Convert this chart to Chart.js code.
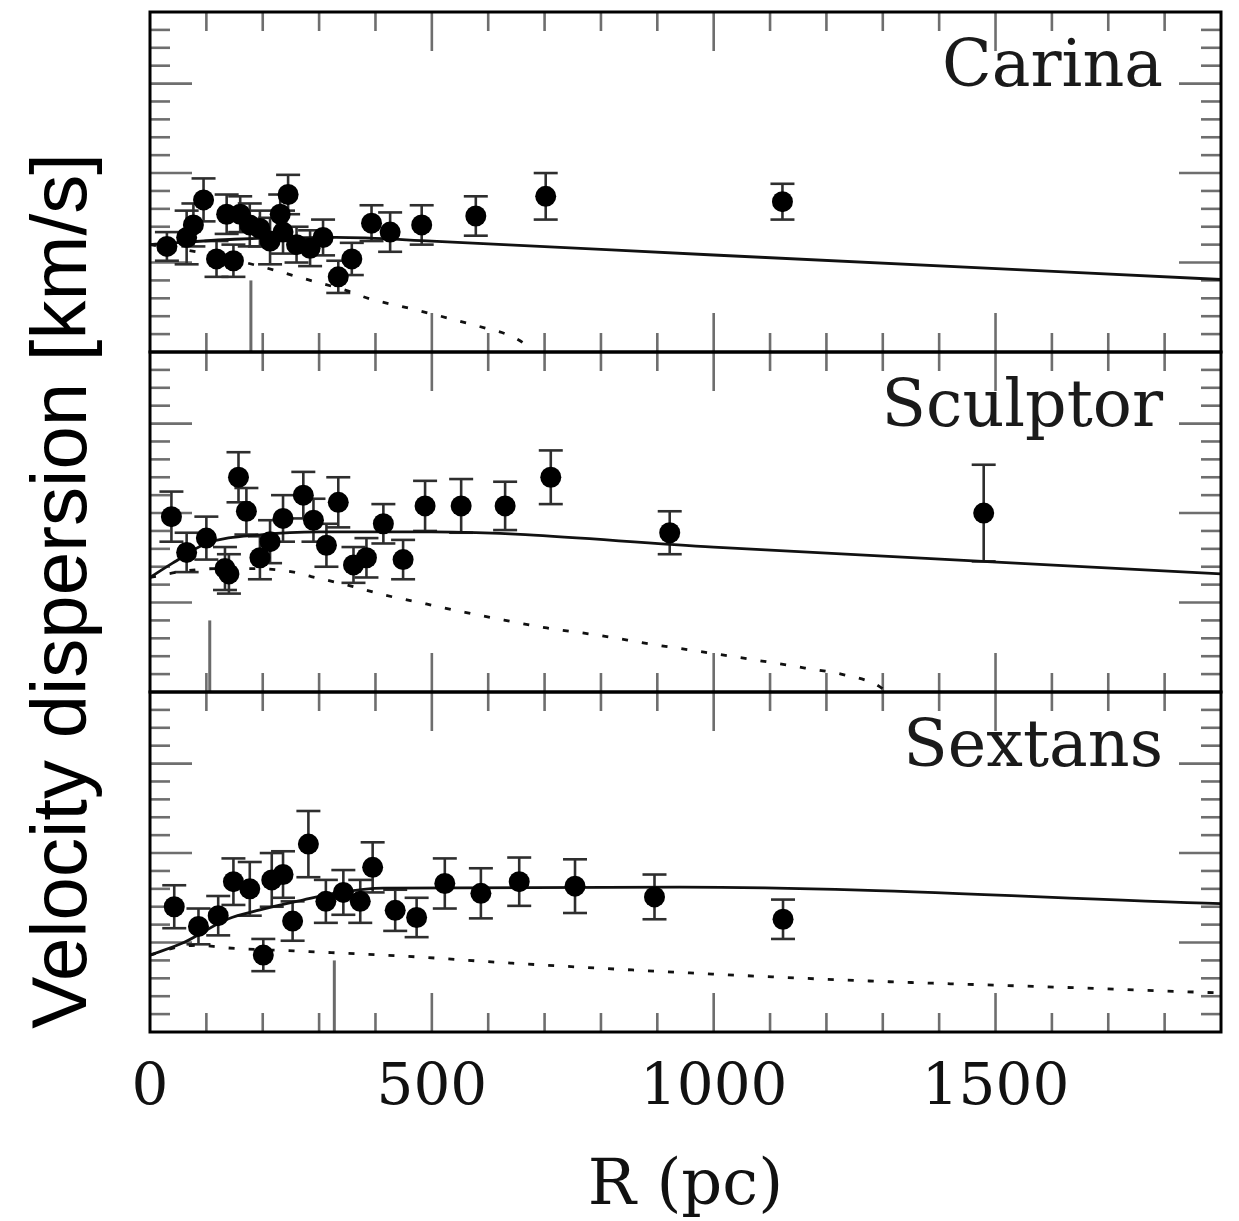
<!DOCTYPE html>
<html>
<head>
<meta charset="utf-8">
<script src="https://cdn.jsdelivr.net/npm/chart.js@4/dist/chart.umd.min.js"></script>
<style>
html,body{margin:0;padding:0;background:#fff;}
#wrap{width:1239px;height:1221px;position:relative;}
canvas{display:block;}
</style>
</head>
<body>
<div id="wrap"><canvas id="c" width="1239" height="1221"></canvas></div>
<script>
// ---------------- data (R in pc, sigma in km/s) ----------------
const xTickLabels = [0, 500, 1000, 1500];
const panelNames = ['Carina', 'Sculptor', 'Sextans'];
const yTitle = 'Velocity dispersion [km/s]';
const xTitle = 'R (pc)';

// Carina
const carinaR     = [30, 65, 77, 95, 118, 136, 148, 160, 177, 195, 213, 231, 236, 245, 260, 284, 307, 334, 358, 393, 426, 482, 578, 702, 1122];
const carinaSigma = [5.9, 6.4, 7.1, 8.5, 5.2, 7.7, 5.1, 7.7, 7.1, 6.9, 6.2, 7.7, 6.7, 8.8, 6.0, 5.8, 6.4, 4.2, 5.2, 7.2, 6.7, 7.1, 7.6, 8.7, 8.4];
const carinaErr   = [0.8, 1.5, 1.2, 1.2, 1.0, 1.1, 0.9, 1.0, 1.2, 1.0, 1.3, 1.1, 1.2, 1.1, 1.0, 1.0, 1.0, 0.9, 0.9, 1.0, 1.1, 1.1, 1.1, 1.3, 1.0];
const carinaModelR = [0, 150, 330, 500, 1000, 1900];
const carinaSolid  = [6.0, 6.3, 6.4, 6.2, 5.42, 4.05];
const carinaNoDmR  = [0, 100, 200, 280, 349, 389, 463, 534, 600, 635, 667, 678];
const carinaDashed = [6.0, 5.5, 4.75, 4.04, 3.43, 2.98, 2.42, 1.85, 1.29, 0.96, 0.39, 0];

// Sculptor
const sculptorR     = [38, 65, 100, 133, 140, 157, 171, 195, 213, 236, 272, 290, 313, 334, 361, 384, 414, 449, 488, 552, 630, 711, 922, 1479];
const sculptorSigma = [9.8, 7.8, 8.6, 6.9, 6.6, 12.0, 10.1, 7.5, 8.4, 9.7, 11.0, 9.6, 8.2, 10.6, 7.1, 7.5, 9.4, 7.4, 10.4, 10.4, 10.4, 12.0, 8.9, 10.0];
const sculptorErr   = [1.4, 1.1, 1.2, 1.2, 1.1, 1.4, 1.3, 1.2, 1.2, 1.3, 1.3, 1.2, 1.2, 1.4, 1.0, 1.1, 1.1, 1.1, 1.4, 1.5, 1.35, 1.5, 1.2, 2.7];
const sculptorModelR = [0, 40, 100, 200, 300, 500, 1000, 1900];
const sculptorSolid  = [6.4, 7.2, 8.3, 8.8, 8.95, 8.95, 8.1, 6.6];
const sculptorNoDmR  = [0, 60, 120, 180, 255, 286, 321, 357, 419, 490, 559, 628, 704, 789, 898, 970, 1086, 1162, 1226, 1283, 1309];
const sculptorDashed = [6.4, 6.75, 6.9, 6.9, 6.7, 6.45, 6.2, 5.92, 5.4, 4.92, 4.45, 4.02, 3.58, 3.2, 2.63, 2.29, 1.73, 1.34, 1.0, 0.5, 0];

// Sextans
const sextansR     = [43, 86, 121, 148, 177, 201, 216, 236, 253, 281, 312, 343, 373, 395, 435, 473, 523, 587, 655, 754, 895, 1123];
const sextansSigma = [7.0, 5.9, 6.5, 8.4, 8.0, 4.3, 8.5, 8.8, 6.2, 10.5, 7.3, 7.8, 7.3, 9.2, 6.8, 6.4, 8.3, 7.75, 8.4, 8.15, 7.55, 6.3];
const sextansErr   = [1.2, 1.0, 1.1, 1.3, 1.5, 0.9, 1.5, 1.3, 1.1, 1.85, 1.2, 1.25, 1.2, 1.4, 1.15, 1.1, 1.4, 1.4, 1.35, 1.5, 1.25, 1.1];
const sextansModelR = [0, 60, 137, 195, 271, 332, 413, 940, 1900];
const sextansSolid  = [4.3, 5.0, 6.3, 6.82, 7.37, 7.77, 8.04, 8.1, 7.17];
const sextansNoDmR  = [0, 50, 90, 128, 255, 445, 640, 958, 1276, 1606, 1900];
const sextansDashed = [4.3, 4.75, 4.85, 4.72, 4.53, 4.25, 3.85, 3.3, 2.85, 2.51, 2.18];

// core-radius markers (pc) and their height (km/s)
const coreR = [179, 106, 327];
const coreMarkHeight = [4.0, 4.0, 4.0];

// ---------------- build ----------------
const panels = [
  {id:'yCar', name:panelNames[0], R:carinaR, S:carinaSigma, E:carinaErr, mR:carinaModelR, mS:carinaSolid, dR:carinaNoDmR, dS:carinaDashed, core:coreR[0], coreH:coreMarkHeight[0]},
  {id:'yScu', name:panelNames[1], R:sculptorR, S:sculptorSigma, E:sculptorErr, mR:sculptorModelR, mS:sculptorSolid, dR:sculptorNoDmR, dS:sculptorDashed, core:coreR[1], coreH:coreMarkHeight[1]},
  {id:'ySex', name:panelNames[2], R:sextansR, S:sextansSigma, E:sextansErr, mR:sextansModelR, mS:sextansSolid, dR:sextansNoDmR, dS:sextansDashed, core:coreR[2], coreH:coreMarkHeight[2]}
];
const zip = (a, b) => a.map((v, i) => ({x: v, y: b[i]}));

const pointSets = [], lineSets = [];
panels.forEach(p => {
  pointSets.push({
    type:'scatter', label:p.name, yAxisID:p.id, data:zip(p.R, p.S), errs:p.E,
    pointRadius:10.5, pointHoverRadius:10.5, backgroundColor:'#000', borderColor:'#000', borderWidth:0
  });
  lineSets.push({
    type:'line', label:p.name+' model', yAxisID:p.id, data:zip(p.mR, p.mS),
    showLine:true, pointRadius:0, borderColor:'#111', borderWidth:2.8, fill:false,
    cubicInterpolationMode:'monotone'
  });
  lineSets.push({
    type:'line', label:p.name+' no DM', yAxisID:p.id, data:zip(p.dR, p.dS),
    showLine:true, pointRadius:0, borderColor:'#111', borderWidth:2.8, borderDash:[6,14], fill:false,
    cubicInterpolationMode:'monotone'
  });
  lineSets.push({
    type:'line', label:p.name+' core', yAxisID:p.id, data:[{x:p.core, y:0}, {x:p.core, y:p.coreH}],
    showLine:true, pointRadius:0, borderColor:'#6a6a6a', borderWidth:3, fill:false
  });
});

function yScaleOpts() {
  return {
    type:'linear', min:0, max:19, position:'left', stack:'panels', stackWeight:1,
    display:true, ticks:{display:false}, grid:{display:false, drawTicks:false}, border:{display:false},
    afterFit(s){ s.width = 0; }
  };
}

const decorPlugin = {
  id:'decor',
  beforeDatasetsDraw(chart) {
    const ctx = chart.ctx, xs = chart.scales.x;
    ctx.save();
    const seg = (x1, y1, x2, y2) => { ctx.beginPath(); ctx.moveTo(x1, y1); ctx.lineTo(x2, y2); ctx.stroke(); };
    panels.forEach(p => {
      const ys = chart.scales[p.id];
      const top = ys.top, bot = ys.bottom, L = xs.left, R = xs.right;
      ctx.strokeStyle = '#6e6e6e'; ctx.lineWidth = 2.6;
      for (let v = 100; v < 1900; v += 100) {
        const px = xs.getPixelForValue(v);
        const len = v % 500 === 0 ? 39 : 19;
        seg(px, top, px, top + len);
        seg(px, bot, px, bot - len);
      }
      for (let v = 1; v < 19; v++) {
        const py = ys.getPixelForValue(v);
        const len = v % 5 === 0 ? 42 : 20;
        seg(L, py, L + len, py);
        seg(R, py, R - len, py);
      }
    });
    // error bars
    chart.data.datasets.forEach((ds, di) => {
      if (!ds.errs) return;
      const ys = chart.scales[ds.yAxisID];
      ctx.strokeStyle = '#2e2e2e'; ctx.lineWidth = 2.6;
      ds.data.forEach((pt, i) => {
        const px = xs.getPixelForValue(pt.x);
        const yt = ys.getPixelForValue(pt.y + ds.errs[i]);
        const yb = ys.getPixelForValue(pt.y - ds.errs[i]);
        seg(px, yt, px, yb);
        seg(px - 12, yt, px + 12, yt);
        seg(px - 12, yb, px + 12, yb);
      });
    });
    ctx.restore();
  },
  afterDraw(chart) {
    const ctx = chart.ctx, xs = chart.scales.x;
    ctx.save();
    panels.forEach(p => {
      const ys = chart.scales[p.id];
      ctx.strokeStyle = '#000'; ctx.lineWidth = 3;
      ctx.strokeRect(xs.left, ys.top, xs.right - xs.left, ys.bottom - ys.top);
      ctx.fillStyle = '#1a1a1a';
      ctx.font = '65px "DejaVu Serif"';
      ctx.textAlign = 'right'; ctx.textBaseline = 'alphabetic';
      ctx.fillText(p.name, 1163, ys.getPixelForValue(14.85));
    });
    // y-axis title
    ctx.translate(86, 591);
    ctx.rotate(-Math.PI / 2);
    ctx.fillStyle = '#000';
    ctx.font = '78px "Liberation Sans"';
    ctx.textAlign = 'center'; ctx.textBaseline = 'alphabetic';
    ctx.fillText(yTitle, 0, 0);
    ctx.restore();
  }
};

new Chart(document.getElementById('c'), {
  data:{ datasets: pointSets.concat(lineSets) },
  options:{
    responsive:false, animation:false, devicePixelRatio:1,
    layout:{ padding:{ left:150, right:18, top:12, bottom:0 } },
    plugins:{ legend:{display:false}, tooltip:{enabled:false}, title:{display:false} },
    scales:{
      x:{
        type:'linear', min:0, max:1900, position:'bottom',
        afterBuildTicks(s){ s.ticks = xTickLabels.map(v => ({value:v})); },
        ticks:{ font:{family:'DejaVu Serif', size:58}, color:'#111', padding:22, maxRotation:0, autoSkip:false, includeBounds:false,
                callback:(v) => String(v) },
        grid:{ display:false, drawTicks:false }, border:{ display:false },
        title:{ display:true, text:xTitle, font:{family:'DejaVu Serif', size:64}, color:'#111', padding:{top:0, bottom:-5} },
        afterFit(s){ s.height = 189; }
      },
      ySex: yScaleOpts(),
      yScu: yScaleOpts(),
      yCar: yScaleOpts()
    }
  },
  plugins:[decorPlugin]
});
</script>
</body>
</html>
